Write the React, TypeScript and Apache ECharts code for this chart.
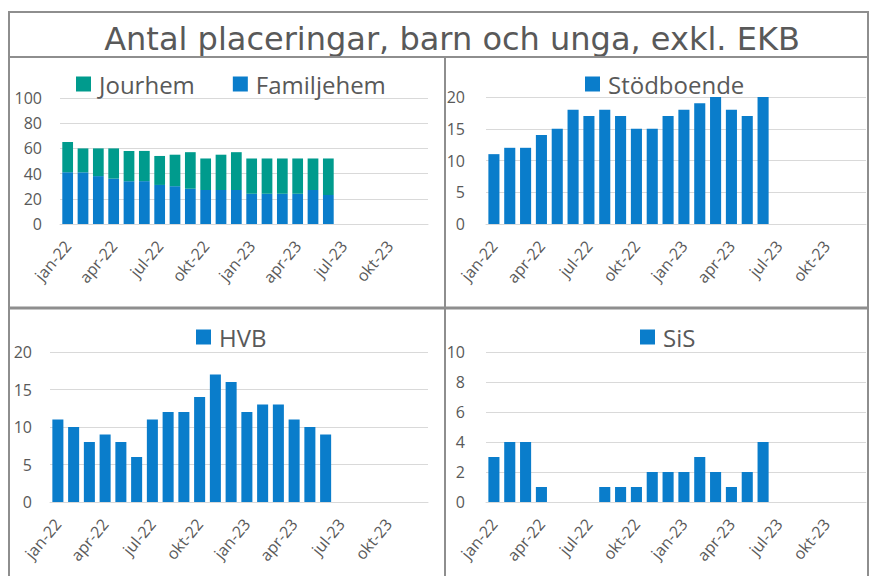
import React, { useEffect, useRef } from "react";
import * as echarts from "echarts";

const months = [
  "jan-22", "feb-22", "mar-22", "apr-22", "maj-22", "jun-22", "jul-22", "aug-22", "sep-22", "okt-22", "nov-22", "dec-22",
  "jan-23", "feb-23", "mar-23", "apr-23", "maj-23", "jun-23", "jul-23", "aug-23", "sep-23", "okt-23", "nov-23", "dec-23",
];
const familjehem = [41, 41, 38, 36, 34, 34, 31, 30, 28, 27, 27, 27, 24, 24, 24, 24, 27, 23];
const jourhem = [24, 19, 22, 24, 24, 24, 23, 25, 29, 25, 28, 30, 28, 28, 28, 28, 25, 29];
const stodboende = [11, 12, 12, 14, 15, 18, 17, 18, 17, 15, 15, 17, 18, 19, 20, 18, 17, 20];
const hvb = [11, 10, 8, 9, 8, 6, 11, 12, 12, 14, 17, 16, 12, 13, 13, 11, 10, 9];
const sis = [3, 4, 4, 1, 0, 0, 0, 1, 1, 1, 2, 2, 2, 3, 2, 1, 2, 4];

const titleText = "Antal placeringar, barn och unga, exkl. EKB";

const BLUE = "#0A7DCB";
const TEAL = "#009B8D";
const TEXT = "#595959";
const GRID = "#D9D9D9";
const FRAME = "#8E8E8E";
const FONT = "Open Sans";

const pad = (arr: number[]) => arr.concat(new Array(months.length - arr.length).fill(null));

export default function App() {
  const ref = useRef<HTMLDivElement>(null);
  useEffect(() => {
    if (!ref.current) return;
    const chart = echarts.init(ref.current, undefined, { renderer: "svg" });
    const grids = [
      { left: 60, top: 98, width: 368, height: 126 },
      { left: 486, top: 97, width: 380, height: 127 },
      { left: 50, top: 352, width: 378, height: 150 },
      { left: 486, top: 352, width: 380, height: 150 },
    ];
    const yCfg = [
      { max: 100, interval: 20, margin: 18 },
      { max: 20, interval: 5, margin: 21 },
      { max: 20, interval: 5, margin: 18 },
      { max: 10, interval: 2, margin: 21 },
    ];
    const xAxis = grids.map((_, i) => ({
      type: "category",
      gridIndex: i,
      data: months,
      axisLine: { show: true, lineStyle: { color: GRID, width: 1 } },
      axisTick: { show: false },
      axisLabel: {
        interval: 2,
        rotate: 50,
        margin: 19,
        color: TEXT,
        fontSize: 16,
        fontFamily: FONT,
      },
    }));
    const yAxis = yCfg.map((c, i) => ({
      type: "value",
      gridIndex: i,
      min: 0,
      max: c.max,
      interval: c.interval,
      axisLine: { show: false },
      axisTick: { show: false },
      splitLine: { lineStyle: { color: GRID, width: 1 } },
      axisLabel: { color: TEXT, fontSize: 16, fontFamily: FONT, margin: c.margin },
    }));
    const barCommon = { type: "bar", barCategoryGap: "30%" };
    const legendCommon = {
      icon: "rect",
      itemWidth: 15,
      itemHeight: 15,
      itemGap: 38,
      padding: 0,
      selectedMode: false,
      textStyle: { color: TEXT, fontSize: 24, fontFamily: FONT, padding: [0, 0, 0, 3] },
      orient: "horizontal",
    };
    chart.setOption({
      animation: false,
      title: {
        text: titleText,
        left: 447,
        top: 18,
        textAlign: "center",
        textStyle: { color: TEXT, fontSize: 32, fontWeight: "normal", fontFamily: "DejaVu Sans" },
      },
      legend: [
        { ...legendCommon, left: 76, top: 72, data: ["Jourhem", "Familjehem"] },
        { ...legendCommon, left: 585, top: 72, data: ["Stödboende"] },
        { ...legendCommon, left: 196, top: 325, data: ["HVB"] },
        { ...legendCommon, left: 640, top: 325, data: ["SiS"] },
      ],
      grid: grids,
      xAxis,
      yAxis,
      series: [
        { ...barCommon, name: "Familjehem", stack: "a", xAxisIndex: 0, yAxisIndex: 0, data: pad(familjehem), itemStyle: { color: BLUE } },
        { ...barCommon, name: "Jourhem", stack: "a", xAxisIndex: 0, yAxisIndex: 0, data: pad(jourhem), itemStyle: { color: TEAL } },
        { ...barCommon, name: "Stödboende", xAxisIndex: 1, yAxisIndex: 1, data: pad(stodboende), itemStyle: { color: BLUE } },
        { ...barCommon, name: "HVB", xAxisIndex: 2, yAxisIndex: 2, data: pad(hvb), itemStyle: { color: BLUE } },
        { ...barCommon, name: "SiS", xAxisIndex: 3, yAxisIndex: 3, data: pad(sis), itemStyle: { color: BLUE } },
      ],
      graphic: [
        { type: "rect", shape: { x: 9, y: 12, width: 859, height: 600 }, style: { fill: "none", stroke: FRAME, lineWidth: 2 }, z: 100 },
        { type: "line", shape: { x1: 9, y1: 57, x2: 869, y2: 57 }, style: { stroke: FRAME, lineWidth: 2 }, z: 100 },
        { type: "line", shape: { x1: 445, y1: 57, x2: 445, y2: 576 }, style: { stroke: FRAME, lineWidth: 2 }, z: 100 },
        { type: "line", shape: { x1: 9, y1: 308, x2: 869, y2: 308 }, style: { stroke: FRAME, lineWidth: 3 }, z: 100 },
      ],
    });
    return () => chart.dispose();
  }, []);
  return (
    <div
      ref={ref}
      style={{ position: "fixed", left: 0, top: 0, width: 869, height: 576, background: "#fff" }}
    />
  );
}
